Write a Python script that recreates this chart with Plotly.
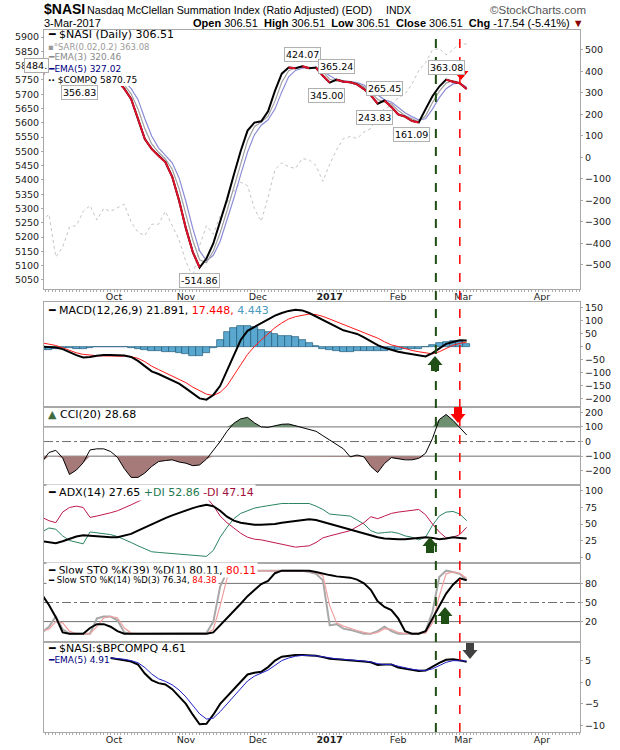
import plotly.graph_objects as go
import pandas as pd

W, H = 620, 750

# ---------------- trading calendar ----------------
holidays = ["2016-09-05", "2016-11-24", "2016-12-26", "2017-01-02",
            "2017-01-16", "2017-02-20", "2017-04-14"]
cal = [d for d in pd.bdate_range("2016-09-01", "2017-04-13")
       if d.strftime("%Y-%m-%d") not in holidays]
last_day = pd.Timestamp("2017-03-03")
n_days = sum(1 for d in cal if d <= last_day)
x_idx = list(range(0, n_days, 2))          # every second trading day
month_keys = ["2016-10", "2016-11", "2016-12", "2017-01", "2017-02", "2017-03", "2017-04"]
month_text = ["Oct", "Nov", "Dec", "<b>2017</b>", "Feb", "Mar", "Apr"]
month_pos = [next(i for i, d in enumerate(cal) if d.strftime("%Y-%m") == k) for k in month_keys]

# ---------------- data ----------------
nasi = [395, 385, 375, 365, 358, 360, 372, 385, 395, 398, 390, 355, 320, 272, 180, 86, 40, 7, -21, -90,
        -200, -330, -440, -512, -470, -400, -300, -195, -80, 30, 125, 162, 168, 215, 310, 390, 418, 415,
        424, 415, 418, 380, 348, 362, 352, 350, 340, 318, 290, 250, 265, 235, 200, 190, 170, 163, 225,
        285, 330, 362, 352, 345, 318]
ema3 = [398, 390, 380, 370, 362, 359, 366, 378, 390, 396, 394, 372, 338, 296, 226, 133, 63, 24, -7, -55,
        -145, -265, -385, -476, -490, -435, -350, -248, -138, -25, 78, 143, 165, 192, 262, 350, 404, 416,
        420, 419, 416, 399, 364, 355, 357, 351, 345, 329, 304, 270, 258, 250, 218, 195, 180, 166, 194,
        255, 308, 346, 357, 348, 320]
ema5 = [400, 395, 385, 375, 366, 360, 363, 372, 384, 392, 395, 385, 355, 320, 270, 180, 100, 45, 10, -25,
        -95, -205, -330, -435, -480, -455, -390, -295, -190, -80, 25, 105, 150, 175, 225, 305, 375, 405,
        415, 418, 417, 405, 380, 362, 358, 354, 348, 337, 315, 290, 268, 258, 235, 208, 190, 175, 180,
        225, 278, 320, 342, 346, 327]
compq = [5255, 5280, 5130, 5165, 5235, 5240, 5290, 5310, 5260, 5300, 5290, 5303, 5315, 5252, 5217, 5205,
         5245, 5245, 5290, 5240, 5190, 5115, 5060, 5170, 5240, 5210, 5275, 5318, 5360, 5392, 5380, 5300,
         5255, 5340, 5436, 5460, 5446, 5440, 5475, 5470, 5450, 5395, 5455, 5505, 5545, 5552, 5545, 5568,
         5580, 5625, 5650, 5660, 5688, 5700, 5735, 5783, 5811, 5855, 5860, 5838, 5855, 5880, 5875]

label_idx = [11, 46, 76, 83, 86, 97, 100, 108, 118]
label_val = [356.83, -514.86, 424.07, 345.00, 365.24, 243.83, 265.45, 161.09, 363.08]
label_above = [False, False, True, False, True, False, True, False, True]

macd = [0, -2, -4, -10, -22, -33, -42, -40, -35, -32, -32, -32, -34, -40, -55, -75, -95, -105, -118, -130,
        -142, -160, -180, -198, -203, -185, -150, -90, -30, 25, 60, 75, 88, 105, 118, 128, 136, 140, 138,
        128, 115, 102, 88, 75, 62, 55, 48, 35, 20, 5, -5, -13, -20, -25, -30, -34, -38, -25, -8, 10, 17,
        24, 23]
macd_sig = [14, 10, 4, -5, -15, -24, -30, -33, -35, -36, -36, -36, -37, -39, -45, -58, -75, -88, -100, -112,
            -124, -138, -155, -170, -182, -187, -175, -150, -112, -70, -30, 0, 25, 50, 72, 90, 105, 114,
            120, 124, 122, 115, 105, 95, 85, 75, 65, 55, 42, 32, 18, 6, 0, -8, -15, -20, -25, -28, -20, -8,
            5, 12, 17]
macd_hist = [-14, -12, -8, -5, -5, -8, -10, -7, -2, 0, 0, 0, -2, -5, -10, -15, -18, -18, -20, -22, -25,
             -30, -36, -38, -25, -5, 25, 55, 70, 78, 80, 75, 62, 55, 46, 42, 40, 35, 25, 15, 2, -8, -15,
             -18, -20, -20, -18, -18, -18, -18, -18, -15, -12, -10, -8, -8, -3, 5, 12, 18, 22, 22, 8]

cci = [-137, -75, -60, -112, -225, -195, -145, -57, -50, -50, -68, -108, -185, -245, -245, -215, -170,
       -137, -130, -125, -140, -148, -165, -160, -120, -60, 0, 70, 125, 155, 165, 128, 100, 97, 108, 118,
       120, 108, 95, 82, 70, 40, 10, -20, -50, -105, -92, -105, -170, -212, -150, -110, -120, -125, -125,
       -115, -80, 20, 150, 185, 145, 95, 45]

adx = [24, 22, 21, 24, 28, 31, 33, 32, 31, 30, 30, 30, 32, 35, 40, 45, 50, 55, 59, 63, 67, 71, 74, 77, 79,
       77, 70, 61, 55, 52, 50, 49, 49, 49, 50, 52, 53, 55, 56, 57, 56, 53, 50, 47, 44, 41, 38, 35, 32, 30,
       28, 27, 27, 27, 28, 29, 30, 29, 27, 28, 30, 29, 28]
pdi = [38, 44, 42, 32, 25, 23, 20, 38, 37, 35, 34, 31, 27, 22, 17, 12, 8, 7, 6, 5, 4, 3, 3, 2, 1, 10, 30,
       45, 58, 66, 70, 74, 76, 78, 80, 81, 81, 81, 81, 81, 77, 72, 65, 64, 64, 62, 56, 50, 40, 36, 37, 38,
       36, 32, 30, 26, 30, 48, 62, 68, 69, 65, 55]
mdi = [60, 55, 52, 68, 75, 77, 75, 60, 62, 64, 67, 70, 74, 79, 84, 89, 96, 99, 100, 101, 101, 100, 99, 97,
       90, 78, 62, 52, 44, 36, 30, 27, 26, 24, 22, 20, 17, 15, 16, 17, 22, 29, 32, 35, 37, 40, 46, 52, 61,
       58, 62, 66, 68, 69, 71, 72, 64, 50, 38, 29, 30, 34, 45]

sto_k39 = [62, 46, 27, 3, 1, 1, 1, 10, 16, 16, 12, 5, 1, 1, 1, 1, 1, 1, 1, 1, 1, 1, 1, 1, 1, 3, 14, 25, 37,
           48, 60, 70, 79, 84, 96, 100, 100, 100, 100, 100, 98, 95, 93, 91, 90, 89, 86, 80, 70, 52, 43, 38,
           25, 5, 1, 1, 5, 25, 45, 64, 78, 88, 85]
sto_k14 = [3, 12, 28, 8, 1, 1, 1, 1, 25, 28, 28, 22, 3, 1, 1, 1, 1, 1, 1, 1, 1, 1, 1, 1, 2, 20, 75, 98, 100,
           100, 100, 100, 100, 100, 100, 100, 100, 100, 100, 98, 95, 85, 14, 16, 9, 7, 4, 1, 1, 5, 12, 5, 1,
           1, 1, 1, 5, 35, 90, 100, 98, 95, 85]
sto_d3 = [6, 8, 20, 18, 5, 1, 1, 1, 12, 26, 28, 26, 10, 2, 1, 1, 1, 1, 1, 1, 1, 1, 1, 1, 1, 8, 45, 88, 99,
          100, 100, 100, 100, 100, 100, 100, 100, 100, 100, 99, 97, 92, 45, 18, 13, 9, 6, 3, 1, 3, 9, 8, 3,
          1, 1, 1, 2, 18, 60, 95, 98, 96, 88]

ratio = [None] * 10 + [5.6, 5.4, 5.1, 4.8, 4.1, 2.0, 0.5, -0.2, -0.5, -1.6, -3.2, -5.0, -7.5, -9.7, -9.6,
                      -7.5, -5.0, -3.3, -1.5, 0.3, 1.8, 2.2, 2.4, 3.5, 5.0, 5.9, 6.1, 6.3, 6.3, 6.2, 6.1,
                      5.8, 5.4, 5.3, 5.2, 5.1, 5.0, 4.8, 4.6, 4.0, 4.1, 4.1, 3.4, 3.1, 2.9, 2.6, 2.7, 3.6,
                      4.5, 5.2, 5.3, 5.1, 4.7]
ratio_ema = [None] * 10 + [5.6, 5.5, 5.3, 5.0, 4.5, 3.4, 1.9, 0.8, 0.2, -0.6, -1.8, -3.4, -5.3, -7.3, -8.5,
                          -8.3, -6.8, -5.0, -3.2, -1.5, 0.3, 1.4, 2.1, 2.8, 3.9, 5.0, 5.6, 6.0, 6.2, 6.2,
                          6.1, 5.9, 5.6, 5.4, 5.3, 5.2, 5.0, 4.9, 4.7, 4.3, 4.1, 4.1, 3.7, 3.3, 3.0, 2.8,
                          2.7, 3.1, 3.9, 4.6, 5.0, 5.0, 4.9]

signal_days = [115, 122]   # green (buy) and red (sell) marker days

# ---------------- helpers ----------------
def px(xp, yp):
    return xp / W, 1 - yp / H


def ydom(top, bot):
    return [1 - bot / H, 1 - top / H]


XD = [44 / W, 580 / W]
XR = [0.55, 157.1]
FONT = "Liberation Sans"
LFONT = "DejaVu Sans"
BORDER = "#a8a8a8"


def falling_segments(xs, ys):
    sx, sy = [], []
    for k in range(len(ys) - 1):
        if ys[k + 1] < ys[k]:
            sx += [xs[k], xs[k + 1], None]
            sy += [ys[k], ys[k + 1], None]
    return sx, sy


def arrow_path(cx, ytop, ybot, down=True, head_w=15, shaft_w=8, head_len=9):
    if down:
        ys0, ys1, yh = ytop, ybot - head_len, ybot
    else:
        ys0, ys1, yh = ybot, ytop + head_len, ytop
    pts = [(cx - shaft_w / 2, ys0), (cx + shaft_w / 2, ys0), (cx + shaft_w / 2, ys1),
           (cx + head_w / 2, ys1), (cx, yh), (cx - head_w / 2, ys1), (cx - shaft_w / 2, ys1)]
    s = ""
    for j, (a, b) in enumerate(pts):
        xa, yb = px(a, b)
        s += ("M" if j == 0 else "L") + f"{xa:.5f},{yb:.5f} "
    return s + "Z"


def txt(xp, yp, text, size=10, color="#000", anchor="left", bg=None, border=None, family=LFONT):
    x, y = px(xp, yp)
    d = dict(xref="paper", yref="paper", x=x, y=y, text=text, showarrow=False,
             xanchor=anchor, yanchor="middle", font=dict(size=size, color=color, family=family))
    if bg:
        d["bgcolor"] = bg
    if border:
        d["bordercolor"] = border
        d["borderwidth"] = 1
        d["borderpad"] = 1
    return d


fig = go.Figure()

# ---------------- main panel ----------------
fig.add_trace(go.Scatter(x=x_idx, y=compq, mode="lines", line=dict(color="#c4c4c4", width=1, dash="dot"),
                         xaxis="x", yaxis="y"))
fig.add_trace(go.Scatter(x=x_idx, y=ema5, mode="lines", line=dict(color="#8c8cd8", width=1.2),
                         xaxis="x", yaxis="y7"))
fig.add_trace(go.Scatter(x=x_idx, y=ema3, mode="lines", line=dict(color="#a0a0a0", width=1.2),
                         xaxis="x", yaxis="y7"))
fig.add_trace(go.Scatter(x=x_idx, y=nasi, mode="lines", line=dict(color="#000", width=2),
                         xaxis="x", yaxis="y7"))
rsx, rsy = falling_segments(x_idx, nasi)
fig.add_trace(go.Scatter(x=rsx, y=rsy, mode="lines", line=dict(color="#e0102a", width=2),
                         xaxis="x", yaxis="y7"))

# ---------------- MACD ----------------
fig.add_trace(go.Bar(x=x_idx, y=macd_hist, width=2,
                     marker=dict(color="#5aa8d0", line=dict(color="#1f5a78", width=0.7)),
                     xaxis="x2", yaxis="y2"))
fig.add_trace(go.Scatter(x=x_idx, y=macd_sig, mode="lines", line=dict(color="#ff1a1a", width=1),
                         xaxis="x2", yaxis="y2"))
fig.add_trace(go.Scatter(x=x_idx, y=macd, mode="lines", line=dict(color="#000", width=2),
                         xaxis="x2", yaxis="y2"))

# ---------------- CCI ----------------
cci_hi = [max(v, 100) for v in cci]
cci_lo = [min(v, -100) for v in cci]
clear = dict(width=0, color="rgba(0,0,0,0)")
fig.add_trace(go.Scatter(x=x_idx, y=[100] * len(x_idx), mode="lines", line=clear, xaxis="x3", yaxis="y3"))
fig.add_trace(go.Scatter(x=x_idx, y=cci_hi, mode="lines", line=clear, fill="tonexty", fillcolor="#6f9070",
                         xaxis="x3", yaxis="y3"))
fig.add_trace(go.Scatter(x=x_idx, y=[-100] * len(x_idx), mode="lines", line=clear, xaxis="x3", yaxis="y3"))
fig.add_trace(go.Scatter(x=x_idx, y=cci_lo, mode="lines", line=clear, fill="tonexty", fillcolor="#a67a78",
                         xaxis="x3", yaxis="y3"))
fig.add_trace(go.Scatter(x=x_idx, y=cci, mode="lines", line=dict(color="#000", width=1),
                         xaxis="x3", yaxis="y3"))

# ---------------- ADX ----------------
fig.add_trace(go.Scatter(x=x_idx, y=pdi, mode="lines", line=dict(color="#2a8560", width=1),
                         xaxis="x4", yaxis="y4"))
fig.add_trace(go.Scatter(x=x_idx, y=mdi, mode="lines", line=dict(color="#c0184a", width=1),
                         xaxis="x4", yaxis="y4"))
fig.add_trace(go.Scatter(x=x_idx, y=adx, mode="lines", line=dict(color="#000", width=2),
                         xaxis="x4", yaxis="y4"))

# ---------------- Slow STO ----------------
fig.add_trace(go.Scatter(x=x_idx, y=sto_k14, mode="lines", line=dict(color="#a8a8a8", width=2),
                         xaxis="x5", yaxis="y5"))
fig.add_trace(go.Scatter(x=x_idx, y=sto_d3, mode="lines", line=dict(color="#f0a0a0", width=1.2),
                         xaxis="x5", yaxis="y5"))
fig.add_trace(go.Scatter(x=x_idx, y=sto_k39, mode="lines", line=dict(color="#000", width=2),
                         xaxis="x5", yaxis="y5"))

# ---------------- Ratio ----------------
fig.add_trace(go.Scatter(x=x_idx, y=ratio, mode="lines", line=dict(color="#000", width=2),
                         xaxis="x6", yaxis="y6"))
fig.add_trace(go.Scatter(x=x_idx, y=ratio_ema, mode="lines", line=dict(color="#2020c8", width=1),
                         xaxis="x6", yaxis="y6"))

# ---------------- axes ----------------
panels = {  # name: (top, bottom) in pixels
    "main": (30, 289), "macd": (302, 407), "cci": (407, 485),
    "adx": (485, 563), "sto": (563, 642), "ratio": (642, 732),
}
tickfont = dict(size=9.5, color="#222", family=LFONT)
xcommon = dict(domain=XD, range=XR, showline=True, mirror=True, linecolor=BORDER, showgrid=False,
               zeroline=False, tickvals=month_pos, ticktext=month_text, tickfont=tickfont, ticks="",
               ticklabelstandoff=-1)
ycommon = dict(showline=True, mirror=True, linecolor=BORDER, showgrid=False, zeroline=False,
               tickfont=tickfont, ticks="outside", ticklen=2, tickcolor="#aaa")
minor_x = dict(ticks="outside", dtick=1, ticklen=2, tickcolor="#aaa", tickwidth=1)

layout_axes = {}
layout_axes["xaxis"] = dict(xcommon, anchor="y", minor=minor_x)
for k, nm in zip(range(2, 7), ["macd", "cci", "adx", "sto", "ratio"]):
    ax = dict(xcommon, anchor=f"y{k}", matches="x", showticklabels=(nm == "ratio"))
    if nm == "ratio":
        ax["minor"] = minor_x
    layout_axes[f"xaxis{k}"] = ax
layout_axes["yaxis"] = dict(ycommon, domain=ydom(*panels["main"]), anchor="x", side="left",
                            range=[5018, 5925], tickvals=list(range(5050, 5901, 50)))
layout_axes["yaxis7"] = dict(ycommon, overlaying="y", anchor="x", side="right",
                             range=[-612, 593], tickvals=list(range(-500, 501, 100)))
layout_axes["yaxis2"] = dict(ycommon, domain=ydom(*panels["macd"]), anchor="x2", side="right",
                             range=[-231, 170], tickvals=list(range(-200, 151, 50)))
layout_axes["yaxis3"] = dict(ycommon, domain=ydom(*panels["cci"]), anchor="x3", side="right",
                             range=[-297, 236], tickvals=[-200, -100, 0, 100, 200])
layout_axes["yaxis4"] = dict(ycommon, domain=ydom(*panels["adx"]), anchor="x4", side="right",
                             range=[-9, 109], tickvals=[0, 25, 50, 75, 100])
layout_axes["yaxis5"] = dict(ycommon, domain=ydom(*panels["sto"]), anchor="x5", side="right",
                             range=[-12, 112], tickvals=[20, 50, 80])
layout_axes["yaxis6"] = dict(ycommon, domain=ydom(*panels["ratio"]), anchor="x6", side="right",
                             range=[-11.5, 9.3], tickvals=[-10, -5, 0, 5])

# ---------------- shapes ----------------
shapes = []
x0p, x1p = XD
for yv, dash in [(100, "solid"), (-100, "solid"), (0, "dashdot")]:
    shapes.append(dict(type="line", xref="paper", yref="y3", x0=x0p, x1=x1p, y0=yv, y1=yv,
                       line=dict(color="#707070", width=1, dash=dash), layer="below"))
for yv, dash in [(80, "solid"), (20, "solid"), (50, "dashdot")]:
    shapes.append(dict(type="line", xref="paper", yref="y5", x0=x0p, x1=x1p, y0=yv, y1=yv,
                       line=dict(color="#707070", width=1, dash=dash), layer="below"))
shapes.append(dict(type="line", xref="x", yref="paper", x0=signal_days[0], x1=signal_days[0],
                   y0=1 - 732 / H, y1=1 - 30 / H, line=dict(color="#1d4d12", width=2, dash="dash")))
shapes.append(dict(type="line", xref="x", yref="paper", x0=signal_days[1], x1=signal_days[1],
                   y0=1 - 732 / H, y1=1 - 30 / H, line=dict(color="#ff0000", width=1.5, dash="dash")))
lx0, ly0 = px(44.5, 30.5)
lx1, ly1 = px(178, 86)
shapes.append(dict(type="rect", xref="paper", yref="paper", x0=lx0, x1=lx1, y0=ly1, y1=ly0,
                   fillcolor="white", line=dict(width=0), layer="above"))
arrows = [
    (461, 62, 80, True, "#ff0000"),
    (435, 356, 371, False, "#1f4f14"),
    (458, 407, 423, True, "#ff0000"),
    (430, 537, 553, False, "#1f4f14"),
    (445, 607, 624, False, "#1f4f14"),
    (470, 643, 659, True, "#404040"),
]
for cx, yt, yb, dn, col in arrows:
    shapes.append(dict(type="path", xref="paper", yref="paper", path=arrow_path(cx, yt, yb, dn),
                       fillcolor=col, line=dict(width=0), layer="above"))

# ---------------- annotations ----------------
ann = []
ann.append(txt(42, 9, "<b>$NASI</b>", size=14, family=FONT))
ann.append(txt(85, 9.5, "Nasdaq McClellan Summation Index (Ratio Adjusted) (EOD)", size=10.7, family=FONT))
ann.append(txt(384, 9.5, "INDX", size=10.5, family=FONT))
ann.append(txt(588, 9.5, "©StockCharts.com", size=11.5, color="#555", anchor="right", family=FONT))
ann.append(txt(42, 23, "3-Mar-2017", size=11, family=FONT))
ann.append(txt(586, 23, "<b>Open</b> 306.51  <b>High</b> 306.51  <b>Low</b> 306.51  <b>Close</b> 306.51  "
               "<b>Chg</b> -17.54 (-5.41%) <span style='color:#8b0000'>▼</span>", size=11, anchor="right",
               family=FONT))

# main legend
ann.append(txt(46, 35, "<b>━</b> $NASI (Daily) 306.51", size=11))
ann.append(txt(46, 46.5, "▪°SAR(0.02,0.2) 363.08", size=8.5, color="#9a9a9a"))
ann.append(txt(46, 57.5, "<b>━</b>EMA(3) 320.46", size=9, color="#8a8a8a"))
ann.append(txt(46, 68.5, "<b>━</b>EMA(5) 327.02", size=9, color="#000080"))
ann.append(txt(46, 80, "<b>··</b> $COMPQ 5870.75", size=9))
ann.append(txt(36, 66, "484.", size=9.5, anchor="center", bg="white", border="#aaa"))

# value labels
for xi, v, up in zip(label_idx, label_val, label_above):
    ann.append(dict(xref="x", yref="y7", x=xi, y=v, text=f"{v:.2f}", showarrow=False,
                    yshift=12 if up else -12, font=dict(size=9.5, color="#000", family=LFONT),
                    bgcolor="white", bordercolor="#b0b0b0", borderwidth=1, borderpad=1))

ann.append(txt(46, 310.5, "<b>━</b> MACD(12,26,9) 21.891, <span style='color:#ff0000'>17.448,</span> "
               "<span style='color:#4a9ac0'>4.443</span>", size=11))
ann.append(txt(46, 414, "<span style='color:#3d6b3d'>▲</span> CCI(20) 28.68", size=11))
ann.append(txt(46, 492, "<b>━</b> ADX(14) 27.65 <span style='color:#1f7a50'>+DI 52.86</span> "
               "<span style='color:#a0103a'>-DI 47.14</span>", size=11, bg="white"))
ann.append(txt(46, 570, "<b>━</b> Slow STO %K(39) %D(1) 80.11, <span style='color:#ff0000'>80.11</span>",
               size=10.5, bg="white"))
ann.append(txt(46, 580, "<b>━</b> Slow STO %K(14) %D(3) 76.34, <span style='color:#ff0000'>84.38</span>",
               size=8.5, bg="white"))
ann.append(txt(46, 648, "<b>━</b> $NASI:$BPCOMPQ 4.61", size=11))
ann.append(txt(46, 659.5, "<b>━</b>EMA(5) 4.91", size=9, color="#000080"))

fig.update_layout(
    width=W, height=H, margin=dict(l=0, r=0, t=0, b=0),
    paper_bgcolor="white", plot_bgcolor="white", showlegend=False,
    font=dict(family=LFONT, size=10, color="#000"),
    shapes=shapes, annotations=ann, bargap=0,
    **layout_axes,
)

fig.write_html("out.html", config={"displayModeBar": False},
               post_script="document.body.style.margin='0';document.body.style.padding='0';")
